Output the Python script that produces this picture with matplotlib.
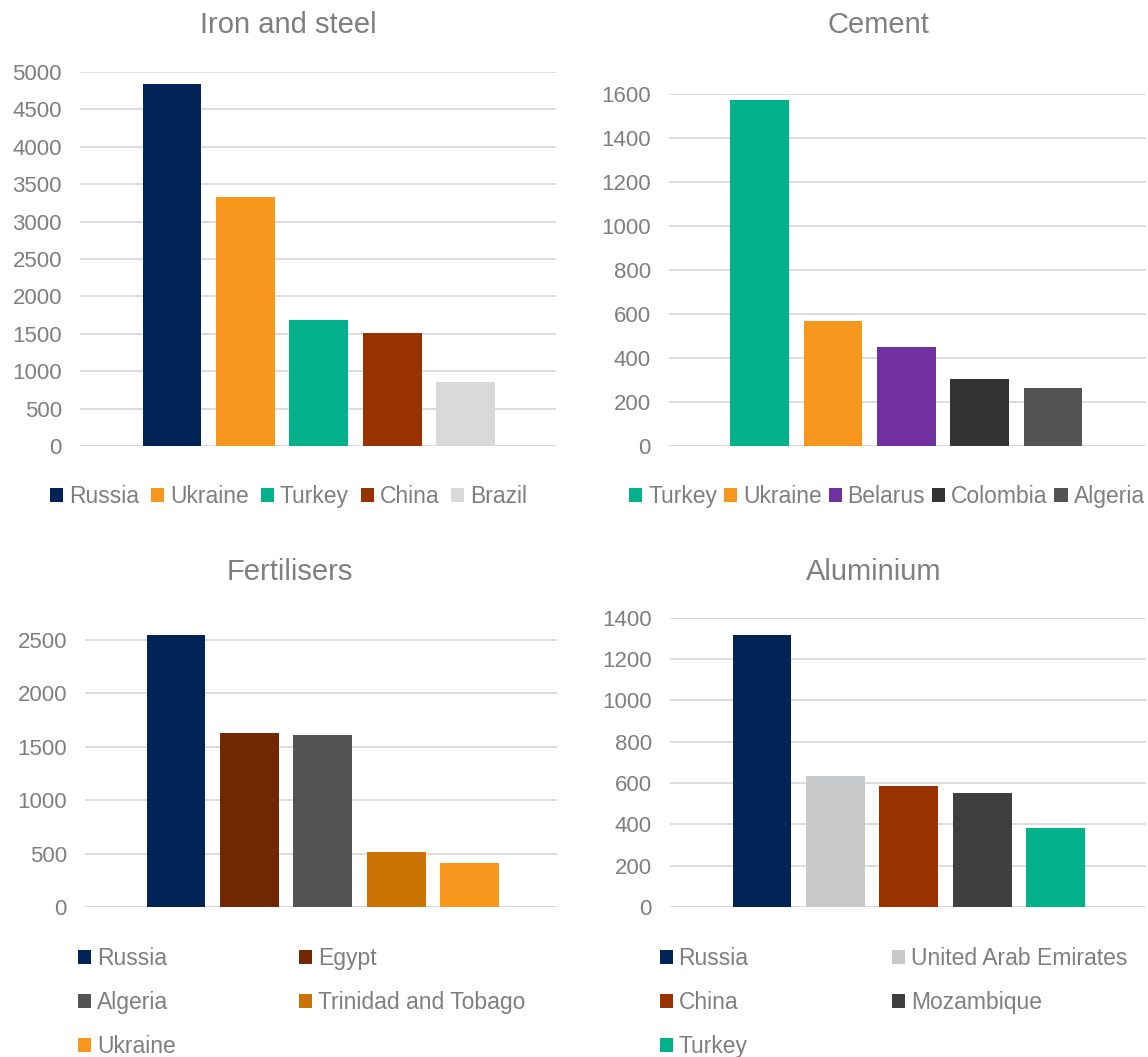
import matplotlib
matplotlib.use("Agg")
import matplotlib.pyplot as plt
from matplotlib.patches import Patch

plt.rcParams['font.family'] = ['Liberation Sans', 'DejaVu Sans']

W, H = 1148, 1057
TEXT_GREY = '#7f7f7f'
GRID_GREY = '#d9d9d9'

# Iron and steel
steel_countries = ['Russia', 'Ukraine', 'Turkey', 'China', 'Brazil']
steel_values = [4840, 3330, 1683, 1509, 853]
steel_colors = ['#002456', '#f7971e', '#00b189', '#983300', '#d9d9d9']
steel_ticks = [0, 500, 1000, 1500, 2000, 2500, 3000, 3500, 4000, 4500, 5000]

# Cement
cement_countries = ['Turkey', 'Ukraine', 'Belarus', 'Colombia', 'Algeria']
cement_values = [1571, 568, 450, 304, 263]
cement_colors = ['#00b189', '#f7971e', '#7030a0', '#333333', '#545454']
cement_ticks = [0, 200, 400, 600, 800, 1000, 1200, 1400, 1600]

# Fertilisers
fert_countries = ['Russia', 'Egypt', 'Algeria', 'Trinidad and Tobago', 'Ukraine']
fert_values = [2547, 1625, 1607, 513, 410]
fert_colors = ['#002456', '#722800', '#545454', '#cb7304', '#f7971e']
fert_ticks = [0, 500, 1000, 1500, 2000, 2500]

# Aluminium
alu_countries = ['Russia', 'United Arab Emirates', 'China', 'Mozambique', 'Turkey']
alu_values = [1316, 633, 585, 551, 382]
alu_colors = ['#002456', '#c8c9cb', '#983300', '#3f3f3f', '#00b189']
alu_ticks = [0, 200, 400, 600, 800, 1000, 1200, 1400]

BAR_STEP = 73.4   # px between bar centres
BAR_WIDTH = 0.8


def panel(fig, box, first_centre, values, colors, ticks, ymax, title, title_xy):
    """box = (left, right, top, bottom) in pixels, top = y of ymax"""
    left, right, top, bottom = box
    ax = fig.add_axes([left / W, 1 - bottom / H, (right - left) / W, (bottom - top) / H])
    x0 = -(first_centre - left) / BAR_STEP
    ax.set_xlim(x0, x0 + (right - left) / BAR_STEP)
    ax.set_ylim(0, ymax)
    ax.bar(range(len(values)), values, width=BAR_WIDTH, color=colors, zorder=3)
    ax.set_yticks(ticks)
    ax.set_yticklabels([str(t) for t in ticks])
    ax.set_xticks([])
    ax.tick_params(axis='y', length=0, pad=13, labelsize=16, labelcolor=TEXT_GREY)
    ax.grid(axis='y', color=GRID_GREY, linewidth=1.3, zorder=0)
    for s in ax.spines.values():
        s.set_visible(False)
    fig.text(title_xy[0] / W, 1 - title_xy[1] / H, title, ha='center', va='baseline',
             fontsize=21, color=TEXT_GREY)
    return ax


def legend_row(fig, names, colors, x, y, colspacing):
    handles = [Patch(facecolor=c, edgecolor='none') for c in colors]
    fig.legend(handles, names, loc='center left', bbox_to_anchor=(x / W, 1 - y / H),
               ncol=len(names), frameon=False, fontsize=16.5, labelcolor=TEXT_GREY,
               handlelength=0.57, handleheight=0.57, handletextpad=0.26,
               columnspacing=colspacing, borderpad=0, borderaxespad=0)


def legend_column(fig, names, colors, x, y_top):
    handles = [Patch(facecolor=c, edgecolor='none') for c in colors]
    fig.legend(handles, names, loc='upper left', bbox_to_anchor=(x / W, 1 - y_top / H),
               ncol=1, frameon=False, fontsize=16.5, labelcolor=TEXT_GREY,
               handlelength=0.57, handleheight=0.57, handletextpad=0.26,
               labelspacing=0.92, borderpad=0, borderaxespad=0)


fig = plt.figure(figsize=(W / 100, H / 100), dpi=100)

panel(fig, (80, 556, 72, 446), 172, steel_values, steel_colors, steel_ticks, 5000,
      'Iron and steel', (288, 33))
panel(fig, (669, 1146, 94, 446), 759.5, cement_values, cement_colors, cement_ticks, 1600,
      'Cement', (878, 33))
panel(fig, (85, 557, 640 - 60 * 267 / 2500, 907), 176, fert_values, fert_colors, fert_ticks,
      2560, 'Fertilisers', (290, 580))
panel(fig, (670, 1146, 617.7, 907), 762, alu_values, alu_colors, alu_ticks, 1400,
      'Aluminium', (874, 580))

legend_row(fig, steel_countries, steel_colors, 50, 496.7, 0.52)
legend_row(fig, cement_countries, cement_colors, 629, 496.7, 0.3)

# two-column legends, filled row by row
LEG_TOP = 947
legend_column(fig, fert_countries[0::2], fert_colors[0::2], 78, LEG_TOP)
legend_column(fig, fert_countries[1::2], fert_colors[1::2], 299, LEG_TOP)
legend_column(fig, alu_countries[0::2], alu_colors[0::2], 659.6, LEG_TOP)
legend_column(fig, alu_countries[1::2], alu_colors[1::2], 892, LEG_TOP)

fig.savefig('out.png', dpi=100, facecolor='white')
